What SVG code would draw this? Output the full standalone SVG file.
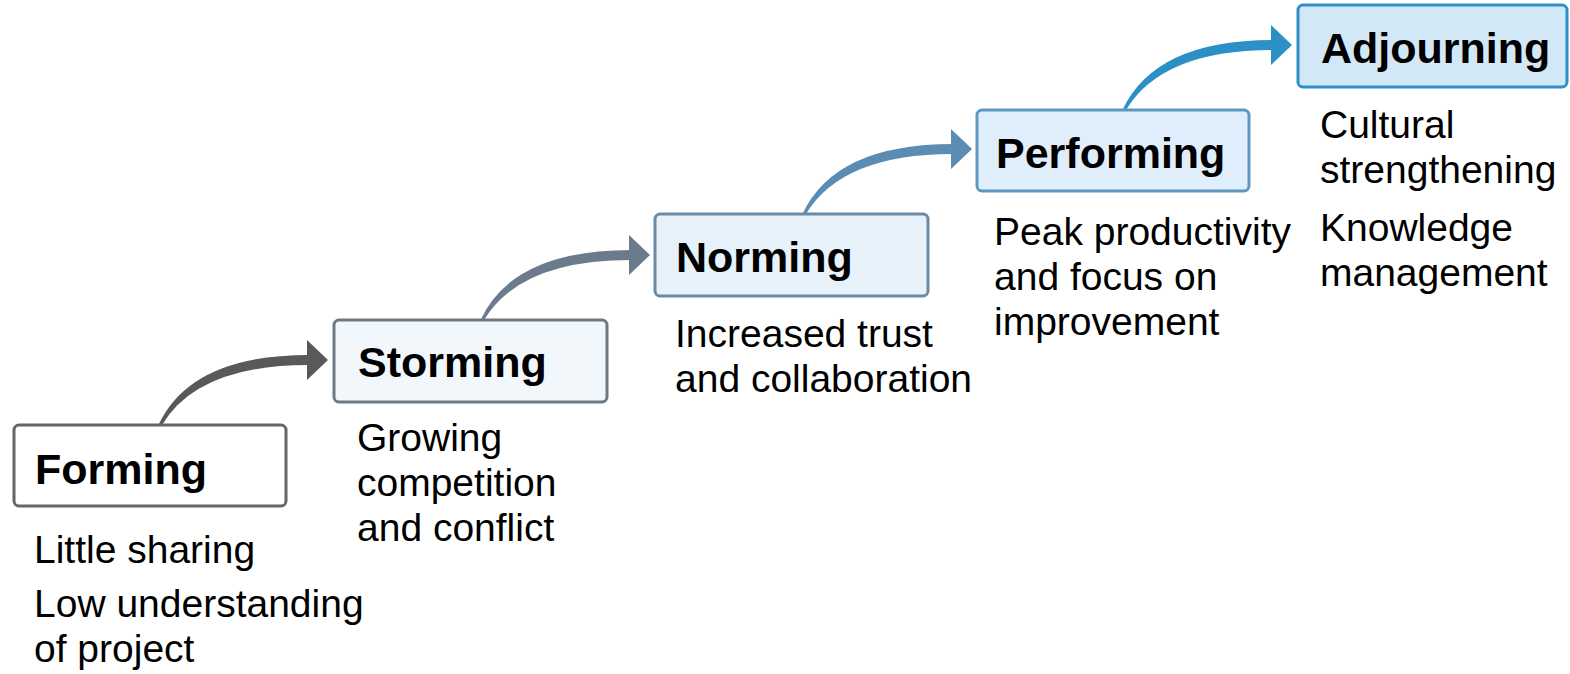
<svg xmlns="http://www.w3.org/2000/svg" xmlns:xlink="http://www.w3.org/1999/xlink" width="1570" height="674" viewBox="0 0 1570 674">
<style>
.box{stroke-width:3}
.lbl{font-family:"Liberation Sans",Arial,sans-serif;font-weight:bold;font-size:43px;fill:#000}
.desc{font-family:"Liberation Sans",Arial,sans-serif;font-size:39px;fill:#000}
</style>
<defs>
<g id="arr">
<path d="M-1.5,0 Q31,-70 149,-70 L149,-60 Q38,-60 2,0 Z"/>
<polygon points="147,-85 168,-65 147,-45"/>
</g>
</defs>
<rect width="1570" height="674" fill="#fff"/>
<g id="connectors">
<use xlink:href="#arr" href="#arr" transform="translate(160,425)" fill="#58595b"/>
<use xlink:href="#arr" href="#arr" transform="translate(482,320)" fill="#6b7b8c"/>
<use xlink:href="#arr" href="#arr" transform="translate(804,214)" fill="#5b8cb3"/>
<use xlink:href="#arr" href="#arr" transform="translate(1124,110)" fill="#2b90c6"/>
</g>
<g id="forming">
<rect class="box" x="14" y="425" width="272" height="81" rx="5" fill="#fff" stroke="#656565"/>
<text class="lbl" x="35" y="484">Forming</text>
<text class="desc" x="34" y="563">Little sharing</text>
<text class="desc" x="34" y="617">Low understanding</text>
<text class="desc" x="34" y="662">of project</text>
</g>
<g id="storming">
<rect class="box" x="334" y="320" width="273" height="82" rx="5" fill="#f2f7fc" stroke="#6d7883"/>
<text class="lbl" x="358" y="377">Storming</text>
<text class="desc" x="357" y="451">Growing</text>
<text class="desc" x="357" y="496">competition</text>
<text class="desc" x="357" y="541">and conflict</text>
</g>
<g id="norming">
<rect class="box" x="655" y="214" width="273" height="82" rx="5" fill="#e6f1fa" stroke="#6a8ba8"/>
<text class="lbl" x="676" y="272">Norming</text>
<text class="desc" x="675" y="347">Increased trust</text>
<text class="desc" x="675" y="392">and collaboration</text>
</g>
<g id="performing">
<rect class="box" x="977" y="110" width="272" height="81" rx="5" fill="#dfeefa" stroke="#5e97c2"/>
<text class="lbl" x="996" y="168">Performing</text>
<text class="desc" x="994" y="245">Peak productivity</text>
<text class="desc" x="994" y="290">and focus on</text>
<text class="desc" x="994" y="335">improvement</text>
</g>
<g id="adjourning">
<rect class="box" x="1298" y="5" width="269" height="82" rx="5" fill="#d3e8f6" stroke="#2c90c8"/>
<text class="lbl" x="1321" y="63">Adjourning</text>
<text class="desc" x="1320" y="138">Cultural</text>
<text class="desc" x="1320" y="183">strengthening</text>
<text class="desc" x="1320" y="241">Knowledge</text>
<text class="desc" x="1320" y="286">management</text>
</g>
</svg>
